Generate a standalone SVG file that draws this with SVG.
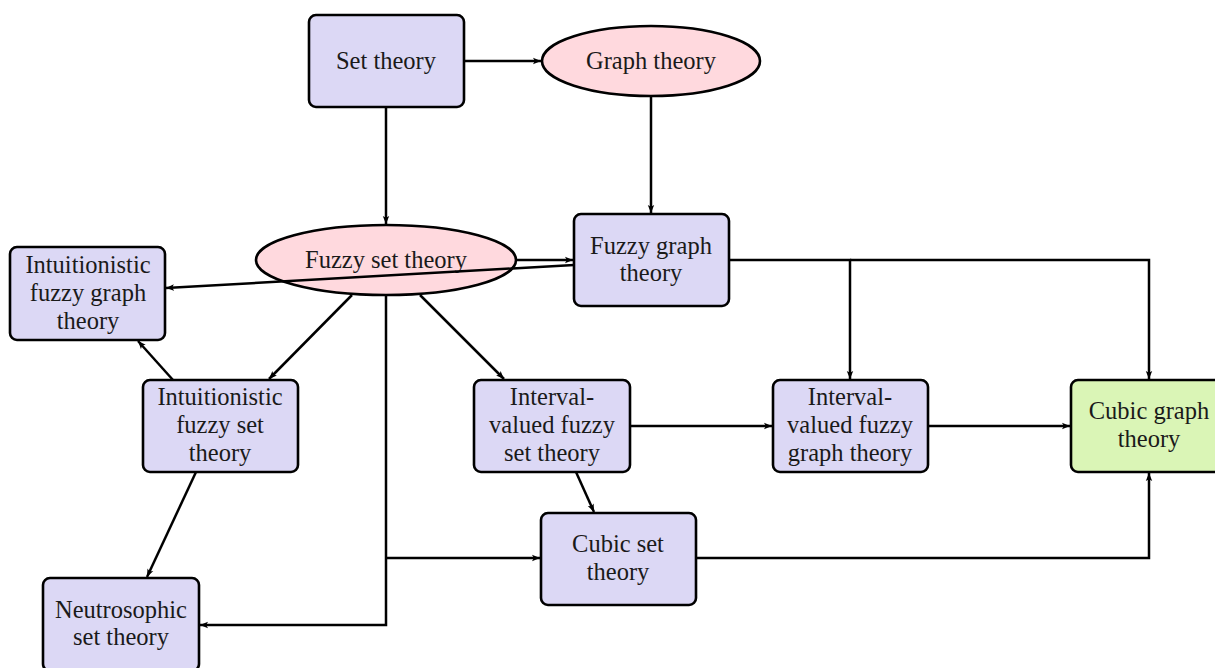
<svg xmlns="http://www.w3.org/2000/svg" width="1215" height="668" viewBox="0 0 1215 668">
<style>
.box{fill:#dcd8f5;stroke:#000;stroke-width:2.6}
.ell{fill:#ffd9de;stroke:#000;stroke-width:2.6}
.grn{fill:#daf5b6;stroke:#000;stroke-width:2.6}
text{font-family:'Liberation Serif','DejaVu Serif',serif;font-size:24.5px;fill:#1a1a1a;text-anchor:middle}
.c{fill:none;stroke:#000;stroke-width:2.5;marker-end:url(#ah)}
</style>
<defs>
<marker id="ah" markerUnits="userSpaceOnUse" markerWidth="10" markerHeight="8" refX="8" refY="4" orient="auto">
<path d="M0,0.8 L8,4 L0,7.2 L1.8,4 z" fill="#000"/>
</marker>
</defs>
<rect width="1215" height="668" fill="#fff"/>
<g id="set-theory"><rect class="box" x="309" y="15" width="155" height="92" rx="7"/><text x="386" y="69" font-family="Liberation Serif">Set theory</text></g>
<g id="graph-theory"><ellipse class="ell" cx="651" cy="61" rx="109" ry="35"/><text x="651" y="69">Graph theory</text></g>
<g id="fuzzy-set-theory"><ellipse class="ell" cx="386" cy="260" rx="130" ry="35"/><text x="386" y="268">Fuzzy set theory</text></g>
<g id="fuzzy-graph-theory"><rect class="box" x="574" y="214" width="155" height="92" rx="7"/><text x="651" y="254">Fuzzy graph</text><text x="651" y="281">theory</text></g>
<g id="intuitionistic-fuzzy-graph-theory"><rect class="box" x="10" y="247" width="155" height="93" rx="7"/><text x="88" y="273">Intuitionistic</text><text x="88" y="301">fuzzy graph</text><text x="88" y="329">theory</text></g>
<g id="intuitionistic-fuzzy-set-theory"><rect class="box" x="143" y="380" width="155" height="92" rx="7"/><text x="220" y="405">Intuitionistic</text><text x="220" y="433">fuzzy set</text><text x="220" y="461">theory</text></g>
<g id="interval-valued-fuzzy-set-theory"><rect class="box" x="474" y="380" width="156" height="92" rx="7"/><text x="552" y="405">Interval-</text><text x="552" y="433">valued fuzzy</text><text x="552" y="461">set theory</text></g>
<g id="interval-valued-fuzzy-graph-theory"><rect class="box" x="773" y="380" width="155" height="92" rx="7"/><text x="850" y="405">Interval-</text><text x="850" y="433">valued fuzzy</text><text x="850" y="461">graph theory</text></g>
<g id="cubic-graph-theory"><rect class="grn" x="1071" y="380" width="156" height="92" rx="7"/><text x="1149" y="419">Cubic graph</text><text x="1149" y="447">theory</text></g>
<g id="cubic-set-theory"><rect class="box" x="541" y="513" width="155" height="92" rx="7"/><text x="618" y="552">Cubic set</text><text x="618" y="580">theory</text></g>
<g id="neutrosophic-set-theory"><rect class="box" x="43" y="578" width="156" height="93" rx="7"/><text x="121" y="618">Neutrosophic</text><text x="121" y="645">set theory</text></g>
<g id="connectors">
<path class="c" d="M464,61 H541"/>
<path class="c" d="M386,107 V224"/>
<path class="c" d="M651,96 V213"/>
<path class="c" d="M516,260 H573"/>
<path class="c" d="M574,265 L166,288"/>
<path class="c" d="M352,295 L269,379"/>
<path class="c" d="M173,380 L138,341"/>
<path class="c" d="M420,295 L504,379"/>
<path class="c" d="M386,295 V625 H200"/>
<path class="c" d="M386,558 H540"/>
<path class="c" d="M196,472 L147,577"/>
<path class="c" d="M576,472 L594,512"/>
<path class="c" d="M630,426 H772"/>
<path class="c" d="M928,426 H1070"/>
<path class="c" d="M729,260 H850 V379"/>
<path class="c" d="M850,260 H1149 V379"/>
<path class="c" d="M696,558 H1149 V473"/>
</g>
</svg>
